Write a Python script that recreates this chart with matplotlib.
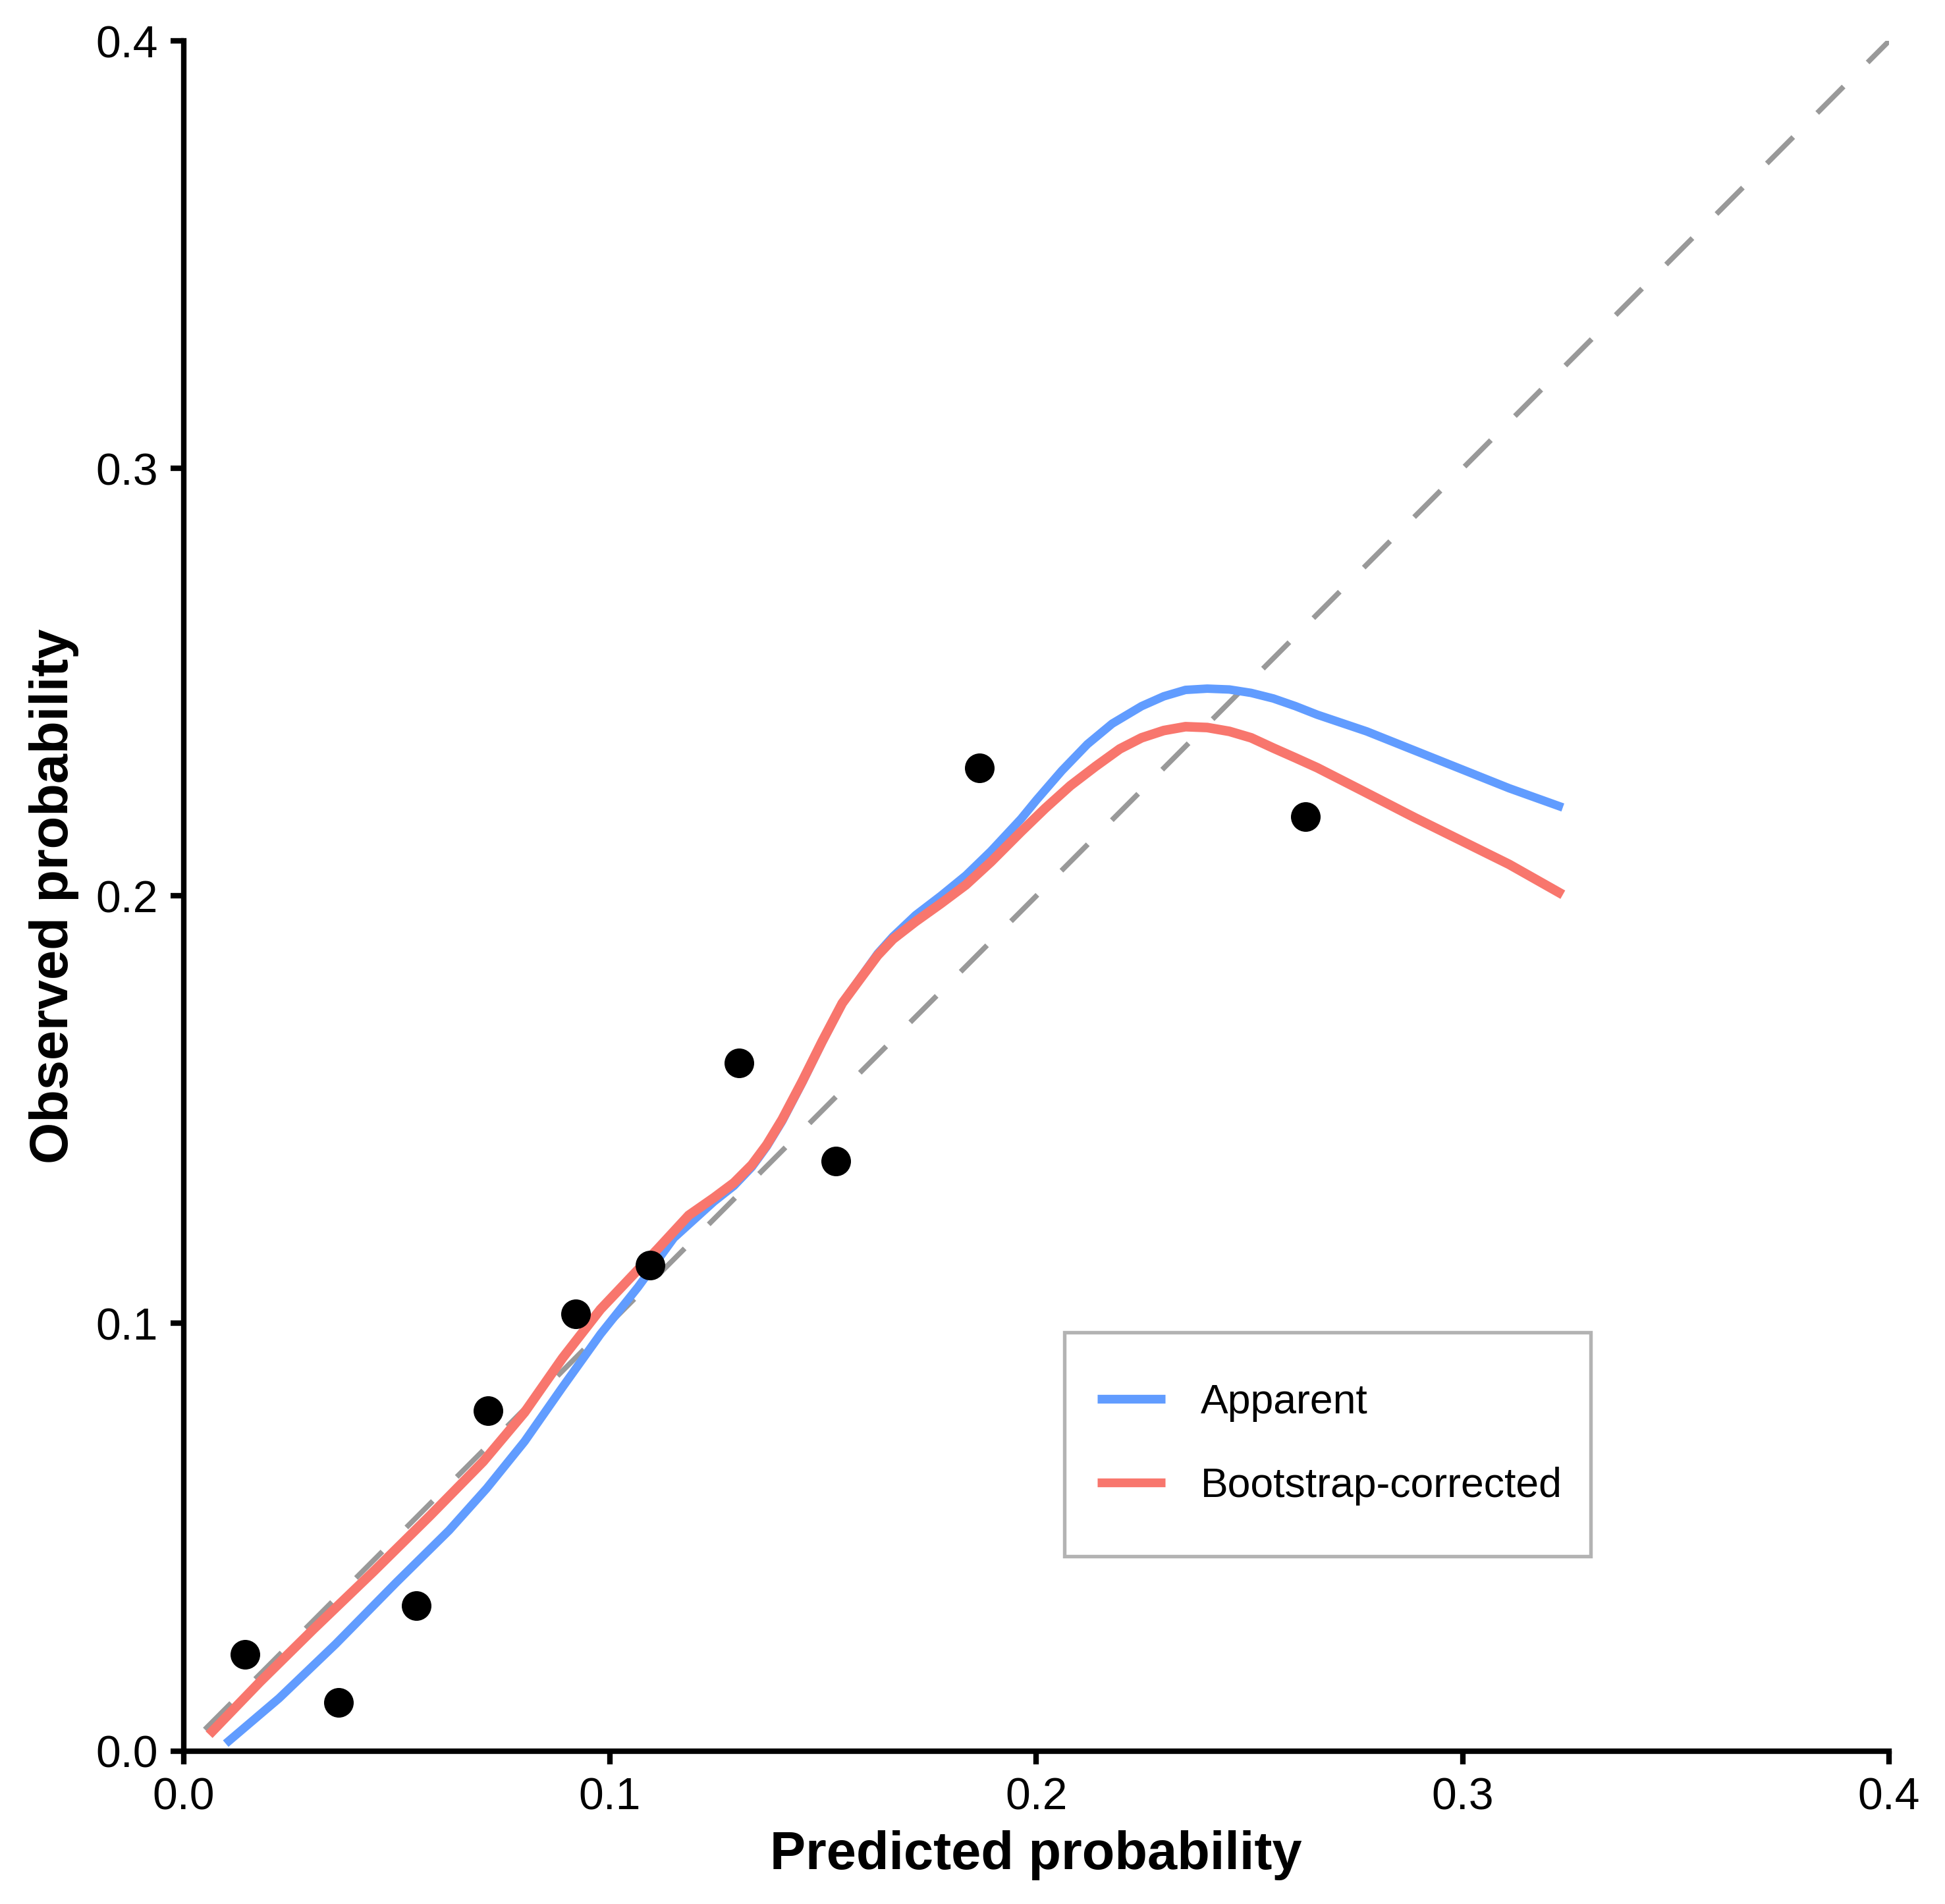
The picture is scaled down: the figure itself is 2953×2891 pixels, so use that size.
import matplotlib
matplotlib.use("Agg")
import matplotlib.pyplot as plt
from matplotlib.patches import Rectangle

# ---- data ----
points_x = [0.0144, 0.0364, 0.0546, 0.0714, 0.0920, 0.1095, 0.1303, 0.1530, 0.1867, 0.2632]
points_y = [0.0226, 0.0113, 0.0340, 0.0796, 0.1023, 0.1137, 0.1610, 0.1380, 0.2300, 0.2186]

apparent_x = [0.0099, 0.0224, 0.0357, 0.0499, 0.0623, 0.0711, 0.0800, 0.0889, 0.0978, 0.1066,
              0.1150, 0.1244, 0.1291, 0.1333, 0.1368, 0.1404, 0.1451, 0.1498, 0.1545, 0.1593,
              0.1628, 0.1664, 0.1717, 0.1776, 0.1835, 0.1894, 0.1964, 0.2001, 0.2060, 0.2120,
              0.2178, 0.2247, 0.2299, 0.2350, 0.2401, 0.2453, 0.2504, 0.2556, 0.2608, 0.2659,
              0.2775, 0.2888, 0.3109, 0.3235]
apparent_y = [0.0017, 0.0123, 0.0250, 0.0394, 0.0516, 0.0614, 0.0724, 0.0851, 0.0975, 0.1085,
              0.1200, 0.1285, 0.1322, 0.1366, 0.1414, 0.1473, 0.1563, 0.1658, 0.1749, 0.1816,
              0.1865, 0.1905, 0.1955, 0.2000, 0.2048, 0.2105, 0.2180, 0.2225, 0.2293, 0.2355,
              0.2403, 0.2444, 0.2467, 0.2482, 0.2485, 0.2483, 0.2475, 0.2462, 0.2444, 0.2424,
              0.2385, 0.2340, 0.2252, 0.2207]

corrected_x = [0.0060, 0.0179, 0.0304, 0.0445, 0.0578, 0.0703, 0.0800, 0.0889, 0.0978, 0.1111,
               0.1185, 0.1244, 0.1291, 0.1333, 0.1368, 0.1404, 0.1451, 0.1498, 0.1545, 0.1593,
               0.1628, 0.1664, 0.1717, 0.1776, 0.1835, 0.1894, 0.1964, 0.2021, 0.2080, 0.2139,
               0.2196, 0.2247, 0.2299, 0.2350, 0.2401, 0.2453, 0.2504, 0.2556, 0.2608, 0.2659,
               0.2767, 0.2888, 0.3109, 0.3235]
corrected_y = [0.0038, 0.0161, 0.0284, 0.0419, 0.0550, 0.0677, 0.0792, 0.0919, 0.1033, 0.1173,
               0.1253, 0.1294, 0.1329, 0.1371, 0.1418, 0.1477, 0.1566, 0.1660, 0.1749, 0.1814,
               0.1861, 0.1899, 0.1940, 0.1982, 0.2026, 0.2080, 0.2150, 0.2205, 0.2258, 0.2303,
               0.2344, 0.2370, 0.2387, 0.2396, 0.2394, 0.2385, 0.2370, 0.2346, 0.2323, 0.2300,
               0.2245, 0.2183, 0.2074, 0.2003]

ideal_x = [0.005, 0.4]
ideal_y = [0.005, 0.4]

xticks = [0.0, 0.1, 0.2, 0.3, 0.4]
yticks = [0.0, 0.1, 0.2, 0.3, 0.4]
tick_labels = ["0.0", "0.1", "0.2", "0.3", "0.4"]

series_labels = ["Apparent", "Bootstrap-corrected"]
series_colors = ["#619CFF", "#F8766D"]

# ---- style ----
plt.rcParams["font.family"] = ["Liberation Sans", "DejaVu Sans"]
plt.rcParams["lines.scale_dashes"] = False

fig = plt.figure(figsize=(2953 / 300, 2891 / 300), dpi=300)
ax = fig.add_axes([0.09435, 0.08042, 0.87686, 0.89803])

ax.plot(ideal_x, ideal_y, color="#999999", lw=1.9, dashes=(13.6, 12.4), zorder=1)
ax.plot(apparent_x, apparent_y, color=series_colors[0], lw=3.1, label=series_labels[0],
        zorder=2, solid_capstyle="butt", solid_joinstyle="round")
ax.plot(corrected_x, corrected_y, color=series_colors[1], lw=3.5, label=series_labels[1],
        zorder=3, solid_capstyle="butt", solid_joinstyle="round")
ax.plot(points_x, points_y, "o", color="black", ms=10.8, mec="none", zorder=4)

ax.set_xlim(0, 0.4)
ax.set_ylim(0, 0.4)
ax.set_xticks(xticks)
ax.set_xticklabels(tick_labels)
ax.set_yticks(yticks)
ax.set_yticklabels(tick_labels)

for s in ["top", "right"]:
    ax.spines[s].set_visible(False)
for s in ["left", "bottom"]:
    ax.spines[s].set_linewidth(2.0)
    ax.spines[s].set_color("black")
    ax.spines[s].set_capstyle("projecting")

ax.tick_params(axis="both", which="major", length=4.8, width=2.0, color="black",
               labelsize=16.3, labelcolor="black", pad=4.5)

ax.set_xlabel("Predicted probability", fontsize=19.5, fontweight="bold", labelpad=4.2)
ax.set_ylabel("Observed probability", fontsize=19.5, fontweight="bold", labelpad=6)

# legend: frame box + frameless centered content
box_x0, box_y0, box_w, box_h = 0.5165, 0.114, 0.3085, 0.1307
frame = Rectangle((box_x0, box_y0), box_w, box_h, transform=ax.transAxes,
                  facecolor="white", edgecolor="#B3B3B3", lw=1.3, zorder=5)
ax.add_patch(frame)
leg = ax.legend(loc="center", bbox_to_anchor=(box_x0 + box_w / 2 + 0.0013, box_y0 + box_h / 2),
                borderaxespad=0, borderpad=0, fontsize=15, frameon=False,
                labelspacing=1.08, handlelength=1.65, handletextpad=0.87)
leg.set_zorder(6)
for line in leg.get_lines():
    line.set_linewidth(3.2)
    line.set_solid_capstyle("butt")

fig.savefig("out.png", dpi=300, facecolor="white")
